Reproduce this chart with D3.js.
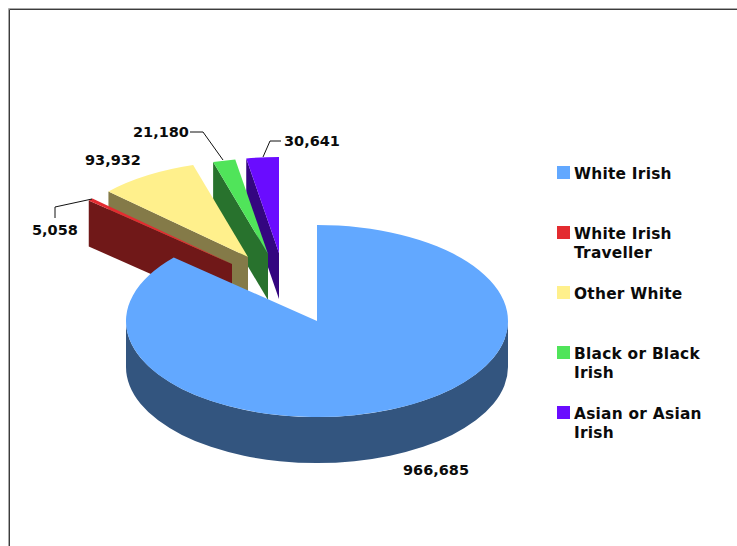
<!DOCTYPE html>
<html>
<head>
<meta charset="utf-8">
<script src="https://cdn.jsdelivr.net/npm/d3@7"></script>
<style>
  html, body { margin: 0; padding: 0; background: #fff; overflow: hidden; }
  text { font-family: "DejaVu Sans", Verdana, sans-serif; font-weight: bold; font-size: 14.5px; fill: #0b0b0b; }
  text.legend { font-size: 15.4px; letter-spacing: 0.25px; }
</style>
</head>
<body>
<svg id="chart" width="737" height="546"></svg>
<script>
// Population by ethnic group
const categories = ["White Irish", "White Irish Traveller", "Other White", "Black or Black Irish", "Asian or Asian Irish"];
const values = [966685, 5058, 93932, 21180, 30641];
const valueLabels = ["966,685", "5,058", "93,932", "21,180", "30,641"];
const legendLines = [["White Irish"], ["White Irish", "Traveller"], ["Other White"], ["Black or Black", "Irish"], ["Asian or Asian", "Irish"]];

const topColors = ["#62a8ff", "#e32b30", "#fff08c", "#50e45a", "#6a0cff"];
const wallColors = ["#33557f", "#701818", "#847a48", "#28722d", "#340680"];

// Pie geometry
const cx = 317, cy = 321, rx = 191, ry = 96, depth = 46;
// How far each slice is pulled out of the pie (dx, dy)
const explode = [[0, 0], [-85, -57], [-69, -64], [-49, -67], [-38, -68]];
const labelAnchors = [[403, 475], [32, 235], [85, 165], [133, 137], [284, 146]];
const leaders = [null,
  [[92, 199], [55, 207], [55, 218]],
  null,
  [[190, 132], [203, 132], [223, 160]],
  [[281, 141], [270, 141], [263, 157]]];

const svg = d3.select("#chart");

// Frame: runs off the right and bottom of the page
svg.append("path")
  .attr("d", "M9.5,560V9.5H750")
  .attr("fill", "none").attr("stroke", "#3c3c3c").attr("stroke-width", 1);
svg.append("path")
  .attr("d", "M8.5,560V8.5H750")
  .attr("fill", "none").attr("stroke", "#a8a8a8").attr("stroke-width", 1);

const pie = d3.pie().value(d => d).sort(null);
const arcs = pie(values);
const unitArc = d3.arc().innerRadius(0).outerRadius(rx);
const rim = (a, ox, oy) => [cx + ox + rx * Math.sin(a), cy + oy - ry * Math.cos(a)];
const line = d3.line();

// Slices are painted back to front: the small pulled-out ones first, last to first
[4, 3, 2, 1].forEach(i => {
  const [ox, oy] = explode[i];
  const a = arcs[i];
  const apex = [cx + ox, cy + oy];
  const edge = rim(a.startAngle, ox, oy);
  svg.append("path")
    .attr("d", line([apex, edge, [edge[0], edge[1] + depth], [apex[0], apex[1] + depth]]) + "Z")
    .attr("fill", wallColors[i]);
  svg.append("path")
    .attr("d", unitArc(a))
    .attr("transform", `translate(${apex[0]},${apex[1]}) scale(1,${ry / rx})`)
    .attr("fill", topColors[i]);
});

// Main slice: curved front wall, then the top
svg.append("path")
  .attr("d", `M${cx - rx},${cy}A${rx},${ry} 0 0 0 ${cx + rx},${cy}V${cy + depth}A${rx},${ry} 0 0 1 ${cx - rx},${cy + depth}Z`)
  .attr("fill", wallColors[0]);
svg.append("path")
  .attr("d", unitArc(arcs[0]))
  .attr("transform", `translate(${cx},${cy}) scale(1,${ry / rx})`)
  .attr("fill", topColors[0]);

// Leader lines
leaders.forEach(pts => {
  if (pts) svg.append("path").attr("d", line(pts)).attr("fill", "none").attr("stroke", "#111").attr("stroke-width", 1);
});

// Value labels
valueLabels.forEach((t, i) => {
  svg.append("text").attr("x", labelAnchors[i][0]).attr("y", labelAnchors[i][1]).text(t);
});

// Legend
const legendY = d3.scalePoint().domain(categories).range([166, 406]);
categories.forEach((c, i) => {
  const y = legendY(c);
  svg.append("rect").attr("x", 557).attr("y", y).attr("width", 13).attr("height", 13).attr("fill", topColors[i]);
  const label = svg.append("text").attr("class", "legend").attr("x", 574).attr("y", y + 13);
  legendLines[i].forEach((l, k) => {
    label.append("tspan").attr("x", 574).attr("dy", k ? 19 : 0).text(l);
  });
});
</script>
</body>
</html>
